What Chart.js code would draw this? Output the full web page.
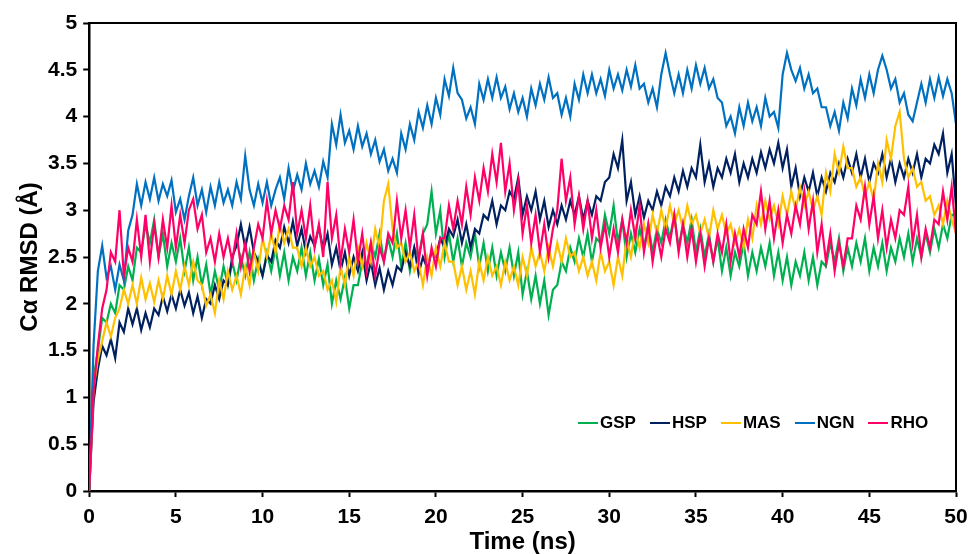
<!DOCTYPE html>
<html>
<head>
<meta charset="utf-8">
<title>Cα RMSD</title>
<script src="https://cdn.jsdelivr.net/npm/chart.js@4.4.1/dist/chart.umd.min.js"></script>
<style>
    html, body { margin: 0; padding: 0; background: #fff; }
    #wrap { position: relative; width: 968px; height: 554px; }
    #legend {
        position: absolute; left: 578px; top: 413px;
        display: flex; gap: 14px;
        font: bold 17px "Liberation Sans", Arial, sans-serif; color: #000;
    }
    #legend .item { display: flex; align-items: center; }
    #legend .swatch { width: 20px; height: 2px; margin-right: 2px; }
</style>
</head>
<body>
<div id="wrap">
    <canvas id="chart" width="968" height="554"></canvas>
    <div id="legend"></div>
</div>
<script>
// Sampling interval of the traces, ns (point i sits at i * STEP_NS).
const STEP_NS = 0.25;

const SERIES_NAMES = ['GSP', 'HSP', 'MAS', 'NGN', 'RHO'];
const SERIES_COLORS = ['#00b050', '#002060', '#ffc000', '#0070c0', '#ff0066'];

// RMSD values (Å), one row per 5 ns.
const GSP = [
    0, 1.2, 1.5, 1.85, 1.8, 2.0, 1.9, 2.2, 2.15, 2.4, 2.25, 2.6, 2.55, 2.85, 2.65, 2.9, 2.5, 2.75, 2.4, 2.65,
    2.45, 2.7, 2.35, 2.6, 2.25, 2.5, 2.2, 2.42, 2.1, 2.35, 2.15, 2.4, 2.2, 2.45, 2.25, 2.5, 2.3, 2.55, 2.25, 2.48,
    2.3, 2.55, 2.35, 2.6, 2.3, 2.55, 2.25, 2.5, 2.35, 2.6, 2.3, 2.55, 2.25, 2.48, 2.2, 2.42, 2.0, 2.25, 2.05, 2.28,
    1.95, 2.2, 2.2, 2.45, 2.4, 2.65, 2.5, 2.75, 2.45, 2.7, 2.5, 2.75, 2.4, 2.65, 2.35, 2.6, 2.5, 2.75, 2.85, 3.2,
    2.75, 3.0, 2.5, 2.75, 2.45, 2.7, 2.4, 2.65, 2.5, 2.75, 2.4, 2.65, 2.35, 2.6, 2.3, 2.55, 2.35, 2.6, 2.3, 2.55,
    2.1, 2.35, 2.05, 2.3, 2.0, 2.25, 1.88, 2.15, 2.2, 2.45, 2.35, 2.6, 2.45, 2.7, 2.5, 2.75, 2.45, 2.7, 2.65, 2.95,
    2.75, 3.05, 2.65, 2.9, 2.5, 2.75, 2.55, 2.8, 2.6, 2.85, 2.55, 2.8, 2.65, 2.9, 2.7, 2.95, 2.6, 2.85, 2.65, 2.9,
    2.55, 2.8, 2.5, 2.75, 2.45, 2.7, 2.35, 2.6, 2.3, 2.55, 2.4, 2.65, 2.3, 2.55, 2.35, 2.6, 2.4, 2.65, 2.3, 2.55,
    2.25, 2.5, 2.2, 2.45, 2.3, 2.55, 2.25, 2.5, 2.2, 2.45, 2.4, 2.65, 2.45, 2.7, 2.35, 2.6, 2.4, 2.65, 2.45, 2.7,
    2.35, 2.6, 2.4, 2.65, 2.35, 2.6, 2.45, 2.7, 2.5, 2.75, 2.45, 2.7, 2.5, 2.75, 2.55, 2.8, 2.6, 2.85, 2.7, 2.95,
    2.95
];
const HSP = [
    0, 0.95, 1.3, 1.55, 1.45, 1.62, 1.42, 1.8, 1.7, 1.95, 1.78, 1.95, 1.72, 1.9, 1.75, 1.95, 1.88, 2.08, 1.92, 2.1,
    1.95, 2.15, 1.98, 2.12, 1.9, 2.08, 1.85, 2.05, 2.0, 2.2, 2.05, 2.25, 2.2, 2.5, 2.62, 2.85, 2.6, 2.82, 2.55, 2.45,
    2.3, 2.52, 2.45, 2.68, 2.6, 2.82, 2.65, 2.88, 2.62, 2.8, 2.55, 2.72, 2.62, 2.82, 2.58, 2.75, 2.42, 2.6, 2.35, 2.55,
    2.3, 2.5, 2.35, 2.55, 2.25, 2.45, 2.2, 2.38, 2.15, 2.35, 2.2, 2.4, 2.35, 2.55, 2.4, 2.6, 2.32, 2.5, 2.38, 2.55,
    2.5, 2.7, 2.6, 2.8, 2.72, 2.9, 2.65, 2.85, 2.6, 2.8, 2.75, 2.95, 2.9, 3.1, 2.85, 3.05, 3.0, 3.2, 3.12, 3.35,
    2.95, 3.15, 3.0, 3.2, 2.9, 3.1, 2.82, 3.0, 2.85, 3.05, 2.9, 3.1, 2.95, 3.15, 2.9, 3.1, 2.95, 3.15, 3.1, 3.3,
    3.35, 3.6, 3.45, 3.75, 3.1, 3.3, 2.95, 3.15, 2.92, 3.1, 3.0, 3.2, 3.05, 3.25, 3.15, 3.35, 3.2, 3.42, 3.25, 3.45,
    3.35, 3.7, 3.3, 3.5, 3.25, 3.45, 3.35, 3.55, 3.4, 3.6, 3.3, 3.5, 3.35, 3.55, 3.4, 3.62, 3.45, 3.65, 3.5, 3.72,
    3.45, 3.65, 3.25, 3.45, 3.15, 3.35, 3.2, 3.4, 3.15, 3.35, 3.2, 3.4, 3.3, 3.5, 3.35, 3.55, 3.4, 3.6, 3.35, 3.55,
    3.3, 3.5, 3.4, 3.6, 3.35, 3.55, 3.3, 3.5, 3.35, 3.55, 3.4, 3.6, 3.35, 3.55, 3.5, 3.7, 3.6, 3.82, 3.4, 3.6,
    3.05
];
const MAS = [
    0, 1.1, 1.4, 1.6, 1.8, 1.65, 1.85, 1.95, 2.15, 2.0, 2.2, 2.0, 2.28, 2.05, 2.22, 2.02, 2.25, 2.05, 2.3, 2.1,
    2.35, 2.15, 2.4, 2.2, 2.45, 2.25, 2.2, 1.98, 2.1, 1.9, 2.25, 2.05, 2.35, 2.15, 2.3, 2.1, 2.4, 2.2, 2.55, 2.35,
    2.7, 2.5, 2.75, 2.55, 2.85, 2.65, 2.8, 2.6, 2.6, 2.4, 2.6, 2.4, 2.5, 2.3, 2.35, 2.15, 2.25, 2.02, 2.4, 2.2,
    2.5, 2.3, 2.6, 2.4, 2.65, 2.45, 2.8, 2.6, 3.1, 3.28, 2.8, 2.6, 2.65, 2.45, 2.55, 2.35, 2.45, 2.2, 2.5, 2.3,
    2.6, 2.4, 2.65, 2.45, 2.45, 2.2, 2.4, 2.15, 2.35, 2.1, 2.45, 2.25, 2.5, 2.3, 2.4, 2.2, 2.45, 2.25, 2.4, 2.2,
    2.5, 2.3, 2.6, 2.4, 2.55, 2.35, 2.6, 2.4, 2.65, 2.45, 2.7, 2.5, 2.55, 2.35, 2.5, 2.3, 2.45, 2.25, 2.55, 2.35,
    2.45, 2.2, 2.5, 2.3, 2.7, 2.5, 2.8, 2.6, 2.85, 2.65, 2.95, 2.75, 3.0, 2.8, 3.05, 2.85, 3.0, 2.8, 3.05, 2.85,
    2.95, 2.75, 2.9, 2.7, 3.0, 2.8, 2.95, 2.75, 2.85, 2.65, 2.8, 2.6, 2.9, 2.7, 3.05, 2.85, 3.1, 2.9, 3.05, 2.85,
    3.15, 2.95, 3.2, 3.0, 3.25, 3.05, 3.2, 3.0, 3.15, 2.95, 3.4, 3.2, 3.6, 3.4, 3.68, 3.45, 3.45, 3.25, 3.35, 3.15,
    3.3, 3.1, 3.5, 3.3, 3.75, 3.55, 3.9, 4.05, 3.55, 3.35, 3.45, 3.25, 3.3, 3.1, 3.15, 2.95, 3.05, 2.85, 3.1, 2.9,
    2.75
];
const NGN = [
    0, 1.55, 2.35, 2.62, 2.28, 2.4, 2.15, 2.42, 2.25, 2.78, 2.95, 3.28, 3.05, 3.3, 3.12, 3.35, 3.1, 3.28, 3.15, 3.32,
    2.98, 3.12, 2.9, 3.15, 3.35, 3.05, 3.22, 2.98, 3.25, 3.05, 3.3, 3.08, 3.22, 3.05, 3.3, 3.12, 3.58, 3.22, 3.05, 3.28,
    3.08, 3.3, 3.05, 3.22, 3.35, 3.12, 3.45, 3.2, 3.38, 3.22, 3.5, 3.28, 3.42, 3.25, 3.52, 3.35, 3.92, 3.7, 4.02, 3.72,
    3.85, 3.65, 3.9, 3.68, 3.82, 3.6, 3.75, 3.52, 3.65, 3.42, 3.55, 3.4, 3.82, 3.65, 3.92, 3.75, 4.05, 3.88, 4.12, 3.92,
    4.2, 4.02, 4.4, 4.22, 4.52, 4.25, 4.18, 3.98, 4.1, 3.92, 4.35, 4.18, 4.4, 4.2, 4.42, 4.2, 4.32, 4.08, 4.25, 4.05,
    4.2, 4.0, 4.3, 4.12, 4.35, 4.18, 4.42, 4.2, 4.25, 4.02, 4.2, 4.0, 4.35, 4.18, 4.45, 4.25, 4.45, 4.25, 4.4, 4.22,
    4.5, 4.3, 4.45, 4.28, 4.5, 4.32, 4.55, 4.3, 4.35, 4.15, 4.3, 4.1, 4.45, 4.68, 4.45, 4.25, 4.45, 4.25, 4.5, 4.3,
    4.55, 4.35, 4.52, 4.3, 4.4, 4.2, 4.15, 3.9, 4.0, 3.82, 4.1, 3.9, 4.15, 3.95, 4.1, 3.9, 4.2, 4.0, 4.05, 3.88,
    4.45, 4.68, 4.5, 4.38, 4.52, 4.3, 4.45, 4.25, 4.3, 4.1, 4.1, 3.9, 4.05, 3.85, 4.15, 3.98, 4.3, 4.12, 4.4, 4.2,
    4.45, 4.25, 4.5, 4.65, 4.5, 4.3, 4.4, 4.15, 4.25, 4.02, 3.95, 4.15, 4.35, 4.15, 4.4, 4.2, 4.42, 4.22, 4.4, 4.25,
    3.92
];
const RHO = [
    0, 1.05, 1.55, 1.95, 2.15, 2.55, 2.45, 3.0, 2.3, 2.6, 2.45, 2.9, 2.5, 2.95, 2.45, 2.85, 2.5, 2.9, 2.6, 3.05,
    2.6, 2.95, 2.65, 3.0, 3.12, 2.8, 2.95, 2.55, 2.7, 2.45, 2.75, 2.5, 2.7, 2.45, 2.75, 2.4, 2.65, 2.35, 2.6, 2.85,
    2.7, 3.1, 2.75, 3.0, 2.8, 3.05, 2.9, 3.3, 2.75, 3.0, 2.7, 3.05, 2.6, 2.85, 2.5, 3.3, 2.7, 2.95, 2.45, 2.8,
    2.55, 2.9, 2.45, 2.75, 2.35, 2.65, 2.3, 2.6, 2.45, 2.75, 2.65, 3.1, 2.7, 3.0, 2.6, 2.95, 2.45, 2.75, 2.3, 2.6,
    2.4, 2.7, 2.7, 3.05, 2.8, 3.1, 2.85, 3.25, 2.95, 3.35, 3.1, 3.45, 3.2, 3.6, 3.3, 3.72, 3.2, 3.5, 3.0, 3.3,
    2.75, 3.05, 2.65, 2.95, 2.55, 2.85, 2.5, 2.8, 3.0, 3.55, 3.1, 3.35, 2.85, 3.15, 2.8, 3.1, 2.7, 3.0, 2.6, 2.85,
    2.5, 2.8, 2.55, 2.9, 2.65, 3.0, 2.7, 3.05, 2.55, 2.85, 2.45, 2.75, 2.5, 2.8, 2.65, 2.95, 2.55, 2.85, 2.5, 2.8,
    2.45, 2.75, 2.4, 2.7, 2.45, 2.75, 2.55, 2.85, 2.45, 2.75, 2.5, 2.8, 2.6, 2.95, 2.85, 3.2, 2.8, 3.1, 2.7, 3.0,
    2.65, 2.95, 2.75, 3.05, 2.85, 3.2, 2.8, 3.1, 2.55, 2.85, 2.45, 2.75, 2.35, 2.65, 2.4, 2.7, 2.7, 3.05, 2.9, 3.25,
    2.85, 3.15, 2.7, 3.0, 2.6, 2.9, 2.7, 3.0, 2.95, 3.25, 2.65, 2.95, 2.5, 2.8, 2.6, 2.9, 2.85, 3.2, 2.9, 3.25,
    2.75
];

const SERIES_VALUES = [GSP, HSP, MAS, NGN, RHO];

const FONT_FAMILY = '"Liberation Sans", Arial, sans-serif';
const TICK_FONT = { family: FONT_FAMILY, size: 21, weight: 'bold', lineHeight: 1 };
const TITLE_FONT = { family: FONT_FAMILY, size: 24, weight: 'bold', lineHeight: 1 };

const toPoints = (values) => values.map((v, i) => ({ x: i * STEP_NS, y: v }));
// "5", "4.5", "1" rather than Chart.js' "5.0", "1.0"
const fmtTick = (v) => String(Math.round(v * 10) / 10);

// Excel-style frame: top and right edges of the plot area.
const framePlugin = {
    id: 'frame',
    afterDraw(chart) {
        const { ctx, chartArea: a } = chart;
        ctx.save();
        ctx.strokeStyle = '#000';
        ctx.lineWidth = 2;
        ctx.beginPath();
        ctx.moveTo(a.left, a.top);
        ctx.lineTo(a.right, a.top);
        ctx.lineTo(a.right, a.bottom);
        ctx.stroke();
        ctx.restore();
    },
};

// Later series are painted over earlier ones, as in the original.
const datasets = SERIES_NAMES.map((name, i) => ({
    label: name,
    data: toPoints(SERIES_VALUES[i]),
    borderColor: SERIES_COLORS[i],
    backgroundColor: SERIES_COLORS[i],
    borderWidth: 2.2,
    pointRadius: 0,
    tension: 0,
    order: SERIES_NAMES.length - i,
}));

new Chart(document.getElementById('chart'), {
    type: 'line',
    data: { datasets },
    options: {
        responsive: false,
        animation: false,
        layout: { padding: { top: 23, right: 2, bottom: 0, left: 18 } },
        plugins: {
            legend: { display: false },
            tooltip: { enabled: false },
        },
        scales: {
            x: {
                type: 'linear',
                min: 0,
                max: 50,
                // the tick padding would otherwise be added to the right margin too
                afterFit: (scale) => { scale.paddingRight = 12; },
                ticks: { stepSize: 5, color: '#000', font: TICK_FONT, padding: 10, callback: fmtTick },
                grid: { drawOnChartArea: false, tickLength: 6, tickColor: '#000', tickWidth: 2 },
                border: { color: '#000', width: 2.5 },
                title: {
                    display: true,
                    text: 'Time (ns)',
                    color: '#000',
                    font: TITLE_FONT,
                    padding: { top: -8, bottom: 0 },
                },
            },
            y: {
                min: 0,
                max: 5,
                ticks: { stepSize: 0.5, color: '#000', font: TICK_FONT, padding: 6, callback: fmtTick },
                grid: { drawOnChartArea: false, tickLength: 6, tickColor: '#000', tickWidth: 2 },
                border: { color: '#000', width: 2.5 },
                title: {
                    display: true,
                    text: 'Cα RMSD (Å)',
                    color: '#000',
                    font: TITLE_FONT,
                    padding: { top: 0, bottom: 0 },
                },
            },
        },
    },
    plugins: [framePlugin],
});

document.getElementById('legend').innerHTML = SERIES_NAMES.map((name, i) => `
    <div class="item"><span class="swatch" style="background:${SERIES_COLORS[i]}"></span>${name}</div>
`).join('');
</script>
</body>
</html>
